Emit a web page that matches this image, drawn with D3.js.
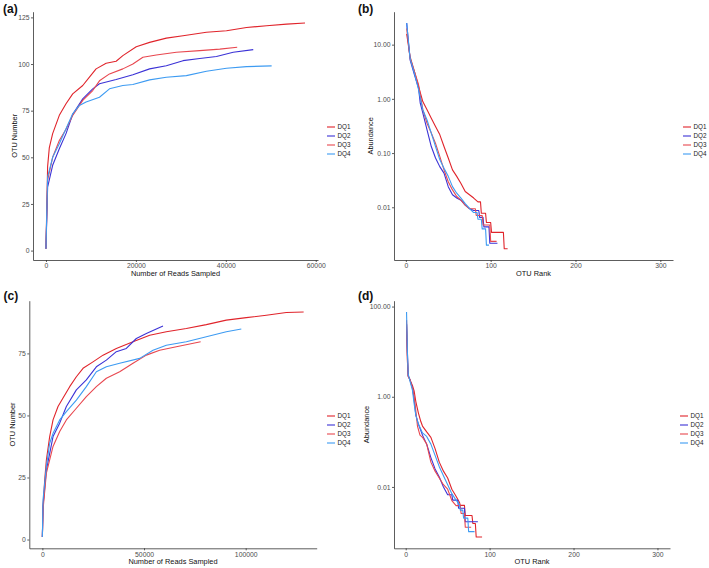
<!DOCTYPE html>
<html lang="en">
<head>
<meta charset="utf-8">
<title>Rarefaction and rank-abundance</title>
<script src="https://cdn.jsdelivr.net/npm/d3@7/dist/d3.min.js"></script>
<style>
  body { margin: 0; background: #fff; }
  svg { font-family: "Liberation Sans", Arial, sans-serif; }
  .axis path, .axis line { stroke: #333; stroke-width: 0.8; fill: none; }
  .axis text { fill: #4d4d4d; font-size: 6.8px; }
  .title { font-size: 7.4px; fill: #111; }
  .panel-label { font-size: 12px; font-weight: bold; fill: #111; }
  .legend text { font-size: 6.3px; fill: #222; }
</style>
</head>
<body>
<script>
// series
var samples = ["DQ1", "DQ2", "DQ3", "DQ4"];
var colors = ["#e0242b", "#3b32d6", "#e8474f", "#3d9bf2"];

// (a) rarefaction: [reads sampled, OTU number]
var rareA_DQ1 = [[0,1],[370,45],[740,55],[1490,62.7],[2970,72.5],[4460,78.7],[5950,84],[8180,88.5],[9670,93],[11150,97.4],[13380,100.4],[15610,101.5],[17100,104.5],[20080,109.3],[23050,111.6],[26770,113.9],[30480,115.2],[35690,117],[40150,117.8],[44610,119.6],[49070,120.5],[53530,121.4],[57620,122]];
var rareA_DQ2 = [[0,1],[370,34],[1490,45.7],[2970,54.6],[4460,62.7],[5950,73],[8180,81.3],[10400,86.7],[11900,89.4],[15610,91.7],[19330,94.3],[23050,97.4],[26770,99.1],[30480,101.8],[34200,103],[37920,104],[41640,106.3],[46100,107.7]];
var rareA_DQ3 = [[0,1],[370,37.7],[1490,50],[2970,59],[4460,65],[5950,72.5],[8180,80.5],[10400,85.8],[11900,91],[14130,94.7],[17100,97.4],[19330,100],[21560,103.6],[24540,104.8],[29000,106.3],[34200,107.2],[38660,108],[42530,109]];
var rareA_DQ4 = [[0,1],[370,39.5],[1490,50],[2970,57.3],[4460,65.3],[5950,73.3],[7430,77.8],[8920,79.6],[11900,82.2],[14130,86.7],[17100,88.5],[19330,89],[23050,91.5],[26770,92.9],[31230,93.8],[35690,96.1],[40150,97.7],[44610,98.6],[50190,99]];

// (c) rarefaction
var rareC_DQ1 = [[0,1],[330,13.4],[1150,24],[1970,32],[3600,41.5],[5250,48.2],[7700,53.6],[10160,57],[13440,61.6],[16720,65.6],[20000,69],[24900,71.6],[29830,74.3],[36380,77],[44580,79.7],[52780,82.3],[60970,83.7],[70800,85],[80640,86.6],[90470,88.4],[100300,89.4],[110140,90.4],[119970,91.5],[128500,91.7]];
var rareC_DQ2 = [[0,1],[330,13.4],[1970,28],[5250,41.5],[8520,46.9],[11800,53.6],[16720,60.3],[21630,64.3],[26550,69.6],[31470,72.3],[36380,75.7],[41300,77],[46220,81],[51140,83],[59330,86]];
var rareC_DQ3 = [[0,1],[330,12],[1970,26.8],[5250,37.5],[8520,43.5],[11800,48.2],[16720,52.9],[21630,57.6],[26550,61.6],[31470,65],[38020,67.6],[44580,71],[51140,74.3],[57690,76.3],[65890,77.7],[77850,79.7]];
var rareC_DQ4 = [[0,1],[330,16],[1970,29.5],[3600,38.8],[5250,42.8],[8520,48.2],[11800,51.5],[16720,56.2],[21630,61.6],[26550,67.6],[31470,69.6],[38020,71],[47860,73],[54420,76.3],[60970,78.3],[70800,79.7],[80640,81.7],[90470,83.7],[97850,84.8]];

// (b) rank-abundance: [OTU rank, abundance %]
var rankB_DQ1 = [[1,15.8],[5,6.03],[10,3.24],[15,1.70],[20,0.89],[25,0.63],[30,0.437],[35,0.309],[40,0.219],[45,0.132],[50,0.0813],[55,0.049],[60,0.0372],[65,0.0275],[70,0.0195],[75,0.017],[80,0.0148],[85,0.0126],[88,0.0126],[89,0.00776],[94,0.00776],[95,0.00525],[100,0.00525],[101,0.00345],[115,0.00345],[116,0.00172],[120,0.00172]];
var rankB_DQ2 = [[1,25.1],[5,5.25],[10,2.82],[15,1.58],[17,0.832],[20,0.55],[25,0.269],[30,0.132],[35,0.0813],[40,0.0562],[45,0.0427],[50,0.024],[55,0.017],[60,0.0148],[65,0.0135],[70,0.011],[75,0.0095],[80,0.0087],[86,0.0087],[87,0.0065],[91,0.0065],[92,0.00434],[98,0.00434],[99,0.00217],[108,0.00217]];
var rankB_DQ3 = [[1,20],[5,5.62],[10,3.24],[15,1.82],[18,0.955],[20,0.631],[25,0.355],[30,0.234],[35,0.151],[40,0.0871],[45,0.049],[50,0.0295],[55,0.0209],[60,0.0158],[65,0.0135],[70,0.011],[75,0.0094],[82,0.0094],[83,0.00706],[90,0.00706],[91,0.0047],[99,0.0047],[100,0.00235],[107,0.00235]];
var rankB_DQ4 = [[1,25.1],[5,5.62],[10,3.02],[15,1.48],[20,0.631],[25,0.407],[30,0.234],[35,0.132],[40,0.0759],[45,0.0525],[50,0.0372],[55,0.024],[60,0.0182],[65,0.0148],[70,0.0117],[75,0.0095],[80,0.008],[84,0.008],[85,0.006],[89,0.006],[90,0.004],[94,0.004],[95,0.002],[98,0.002]];

// (d) rank-abundance
var rankD_DQ1 = [[1,39.8],[2,6.31],[3,2.88],[5,2.40],[8,1.78],[10,1.35],[12,0.794],[15,0.447],[18,0.282],[20,0.224],[25,0.166],[30,0.126],[35,0.0708],[40,0.0355],[45,0.0224],[50,0.0158],[55,0.0089],[60,0.0062],[64,0.0046],[65,0.0039],[70,0.0039],[71,0.00233],[79,0.00233],[80,0.00155],[83,0.00155],[84,0.000775],[91,0.000775]];
var rankD_DQ2 = [[1,41.7],[2,10],[3,2.88],[5,2.40],[8,1.58],[10,0.891],[12,0.398],[15,0.251],[18,0.178],[20,0.141],[25,0.0891],[30,0.0447],[35,0.0251],[40,0.0166],[45,0.01],[50,0.0067],[55,0.0067],[56,0.0051],[62,0.0051],[63,0.00337],[70,0.00337],[71,0.00169],[86,0.00169]];
var rankD_DQ3 = [[1,50],[2,7.94],[3,2.82],[5,2.40],[8,1.58],[10,1.0],[12,0.501],[14,0.224],[17,0.141],[20,0.126],[25,0.0891],[30,0.0355],[35,0.0224],[40,0.0158],[45,0.0112],[50,0.0089],[55,0.005],[60,0.00385],[65,0.00385],[66,0.00257],[70,0.00257],[71,0.00128],[78,0.00128]];
var rankD_DQ4 = [[1,75.9],[2,10],[3,3.16],[5,2.24],[8,1.41],[10,0.708],[12,0.398],[15,0.251],[20,0.158],[25,0.132],[30,0.0891],[35,0.05],[40,0.0282],[45,0.0178],[50,0.0112],[55,0.0071],[60,0.0051],[64,0.0041],[65,0.00307],[68,0.00307],[69,0.00204],[74,0.00204],[75,0.00102],[82,0.00102]];

// ticks
var ticksAx = [0, 20000, 40000, 60000];
var ticksAy = [0, 25, 50, 75, 100, 125];
var ticksCx = [0, 50000, 100000];
var ticksCy = [0, 25, 50, 75];
var ticksRank = [0, 100, 200, 300];
var ticksBy = [10, 1, 0.1, 0.01];
var ticksDy = [100, 1, 0.01];
var rankLimits = [1, 300];

var W = 709, H = 568;
var svg = d3.select("body").append("svg").attr("width", W).attr("height", H);

// ggplot-like 5% expansion
function expand(ext, log) {
  if (log) {
    var a = Math.log10(ext[0]), b = Math.log10(ext[1]), m = (b - a) * 0.05;
    return [Math.pow(10, a - m), Math.pow(10, b + m)];
  }
  var m2 = (ext[1] - ext[0]) * 0.05;
  return [ext[0] - m2, ext[1] + m2];
}

function drawPanel(p) {
  var all = d3.merge(p.series);
  var xExt = p.xLimits || d3.extent(all, function(d) { return d[0]; });
  var yExt = d3.extent(all, function(d) { return d[1]; });

  var x = d3.scaleLinear().domain(expand(xExt, false)).range([p.left, p.right]);
  var y = (p.log ? d3.scaleLog() : d3.scaleLinear())
    .domain(expand(yExt, p.log)).range([p.bottom, p.top]);

  var g = svg.append("g");

  var line = d3.line()
    .x(function(d) { return x(d[0]); })
    .y(function(d) { return y(d[1]); });

  g.selectAll("path.series")
    .data(p.series)
    .enter().append("path")
    .attr("class", "series")
    .attr("d", line)
    .attr("fill", "none")
    .attr("stroke", function(d, i) { return colors[i]; })
    .attr("stroke-width", 1.1)
    .attr("stroke-linejoin", "round");

  var xAxis = d3.axisBottom(x).tickValues(p.xTicks).tickFormat(d3.format("d"))
    .tickSize(2).tickSizeOuter(0).tickPadding(1.5);
  var yAxis = d3.axisLeft(y).tickValues(p.yTicks).tickFormat(p.yFormat)
    .tickSize(2).tickSizeOuter(0).tickPadding(1.5);

  g.append("g").attr("class", "axis")
    .attr("transform", "translate(0," + p.bottom + ")").call(xAxis);
  g.append("g").attr("class", "axis")
    .attr("transform", "translate(" + p.left + ",0)").call(yAxis);

  // titles
  g.append("text").attr("class", "title")
    .attr("x", (p.left + p.right) / 2).attr("y", p.xTitleY)
    .attr("text-anchor", "middle").text(p.xTitle);
  g.append("text").attr("class", "title")
    .attr("transform", "translate(" + p.yTitleX + "," + (p.top + p.bottom) / 2 + ") rotate(-90)")
    .attr("text-anchor", "middle").attr("dy", "0.35em").text(p.yTitle);

  g.append("text").attr("class", "panel-label")
    .attr("x", p.labelX).attr("y", p.labelY).text(p.label);

  // legend
  var lg = g.append("g").attr("class", "legend")
    .attr("transform", "translate(" + p.legendX + "," + p.legendY + ")");
  var item = lg.selectAll("g").data(samples).enter().append("g")
    .attr("transform", function(d, i) { return "translate(0," + (i * 9) + ")"; });
  item.append("line").attr("x1", 0).attr("x2", 8).attr("y1", 0).attr("y2", 0)
    .attr("stroke", function(d, i) { return colors[i]; }).attr("stroke-width", 1.1);
  item.append("text").attr("x", 10.5).attr("dy", "0.35em").text(function(d) { return d; });
}

var intFmt = d3.format("d");
var f2 = d3.format(".2f");

drawPanel({
  series: [rareA_DQ1, rareA_DQ2, rareA_DQ3, rareA_DQ4],
  left: 33, right: 318, top: 11.7, bottom: 260, log: false,
  xTicks: ticksAx, yTicks: ticksAy, yFormat: intFmt,
  xTitle: "Number of Reads Sampled", yTitle: "OTU Number",
  xTitleY: 275.8, yTitleX: 14, label: "(a)", labelX: 3, labelY: 12.5,
  legendX: 327, legendY: 127
});
drawPanel({
  series: [rankB_DQ1, rankB_DQ2, rankB_DQ3, rankB_DQ4], xLimits: rankLimits,
  left: 394, right: 673, top: 11.7, bottom: 260, log: true,
  xTicks: ticksRank, yTicks: ticksBy, yFormat: f2,
  xTitle: "OTU Rank", yTitle: "Abundance",
  xTitleY: 275.8, yTitleX: 370, label: "(b)", labelX: 358, labelY: 12.5,
  legendX: 683, legendY: 127
});
drawPanel({
  series: [rareC_DQ1, rareC_DQ2, rareC_DQ3, rareC_DQ4],
  left: 29.3, right: 316.7, top: 300.7, bottom: 548.3, log: false,
  xTicks: ticksCx, yTicks: ticksCy, yFormat: intFmt,
  xTitle: "Number of Reads Sampled", yTitle: "OTU Number",
  xTitleY: 564, yTitleX: 12.7, label: "(c)", labelX: 3.5, labelY: 300,
  legendX: 327, legendY: 416
});
drawPanel({
  series: [rankD_DQ1, rankD_DQ2, rankD_DQ3, rankD_DQ4], xLimits: rankLimits,
  left: 394, right: 670, top: 300.7, bottom: 548.3, log: true,
  xTicks: ticksRank, yTicks: ticksDy, yFormat: f2,
  xTitle: "OTU Rank", yTitle: "Abundance",
  xTitleY: 564, yTitleX: 366, label: "(d)", labelX: 358, labelY: 299.5,
  legendX: 680, legendY: 416
});
</script>
</body>
</html>
